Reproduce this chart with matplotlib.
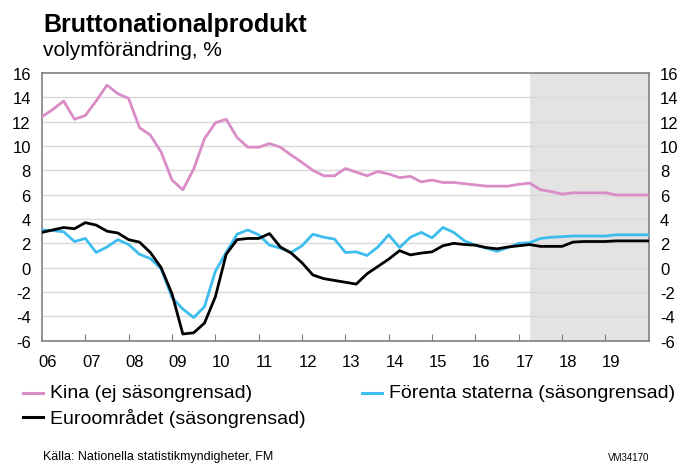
import numpy as np
import matplotlib.pyplot as plt

plt.rcParams['font.family'] = ['Liberation Sans', 'DejaVu Sans']
plt.rcParams['axes.unicode_minus'] = False

# quarterly values, 2005 Q4 .. 2019 Q4 (plotted at quarter ends)
kina = [12.4, 13.0, 13.7, 12.2, 12.5, 13.7, 15.0, 14.3, 13.9, 11.5,
        10.9, 9.5, 7.2, 6.4, 8.1, 10.6, 11.9, 12.2, 10.7, 9.9,
        9.9, 10.2, 9.9, 9.25, 8.65, 8.0, 7.55, 7.55, 8.15, 7.85,
        7.55, 7.9, 7.7, 7.4, 7.5, 7.05, 7.2, 7.0, 7.0, 6.9,
        6.8, 6.7, 6.7, 6.7, 6.85, 6.95, 6.4, 6.25, 6.05, 6.15,
        6.15, 6.15, 6.15, 5.97, 5.97, 5.97, 5.97]
usa = [3.1, 3.05, 2.95, 2.15, 2.4, 1.25, 1.7, 2.3, 1.9, 1.1,
       0.75, -0.1, -2.45, -3.4, -4.1, -3.2, -0.3, 1.25, 2.75, 3.1,
       2.7, 1.85, 1.6, 1.25, 1.8, 2.75, 2.5, 2.35, 1.25, 1.3,
       1.0, 1.7, 2.7, 1.65, 2.5, 2.9, 2.45, 3.3, 2.9, 2.2,
       1.85, 1.6, 1.35, 1.65, 2.0, 2.05, 2.4, 2.5, 2.55, 2.6,
       2.6, 2.6, 2.6, 2.7, 2.7, 2.7, 2.7]
euro = [2.9, 3.1, 3.3, 3.2, 3.7, 3.5, 3.0, 2.85, 2.3, 2.1,
        1.25, 0.0, -2.15, -5.45, -5.35, -4.55, -2.4, 1.1, 2.3, 2.4,
        2.4, 2.8, 1.7, 1.2, 0.4, -0.6, -0.9, -1.05, -1.2, -1.35,
        -0.5, 0.1, 0.7, 1.4, 1.05, 1.2, 1.3, 1.8, 2.0, 1.9,
        1.85, 1.65, 1.55, 1.7, 1.8, 1.9, 1.75, 1.75, 1.75, 2.1,
        2.15, 2.15, 2.15, 2.2, 2.2, 2.2, 2.2]
year_labels = ['06', '07', '08', '09', '10', '11', '12', '13', '14', '15',
               '16', '17', '18', '19']

x = 2006 + 0.25 * np.arange(len(kina))
years = np.arange(2006, 2020)

fig = plt.figure(figsize=(6.88, 4.64), dpi=100)
ax = fig.add_axes([0.061, 0.2636, 0.882, 0.577])

ax.axvspan(2017.25, 2020, color='#e3e3e3', zorder=0, lw=0)
for v in range(-4, 16, 2):
    ax.axhline(v, color='#d9d9d9', lw=1, zorder=1)

ax.plot(x, kina, color='#d98cc6', lw=2, zorder=3)
ax.plot(x, usa, color='#3dbdee', lw=2, zorder=4)
ax.plot(x, euro, color='black', lw=2, zorder=5)

ax.set_xlim(2006, 2020)
ax.set_ylim(-6, 16)
ax.set_xticks(years[1:])
ax.set_xticklabels([])
ax.tick_params(axis='x', direction='in', length=5, color='#808080')
ax.set_yticks(range(-6, 17, 2))
ax.tick_params(axis='y', length=0, labelsize=12, pad=8)
ax.tick_params(labelright=True)
for s in ax.spines.values():
    s.set_color('#808080')
    s.set_linewidth(1.2)
for yr, lab in zip(years, year_labels):
    ax.text(yr + 0.14, -7.7, lab, ha='center', va='center', fontsize=12)

fig.text(0.0625, 0.946, 'Bruttonationalprodukt', fontsize=18, fontweight='bold', va='center')
fig.text(0.0625, 0.892, 'volymförändring, %', fontsize=15, va='center')

# legend
fig.lines.append(plt.Line2D([0.034, 0.062], [0.151, 0.151], color='#d98cc6', lw=2.2, transform=fig.transFigure))
fig.text(0.0727, 0.151, 'Kina (ej säsongrensad)', fontsize=14, va='center')
fig.lines.append(plt.Line2D([0.526, 0.555], [0.151, 0.151], color='#3dbdee', lw=2.2, transform=fig.transFigure))
fig.text(0.565, 0.151, 'Förenta staterna (säsongrensad)', fontsize=14, va='center')
fig.lines.append(plt.Line2D([0.034, 0.062], [0.099, 0.099], color='black', lw=2.2, transform=fig.transFigure))
fig.text(0.0727, 0.099, 'Euroområdet (säsongrensad)', fontsize=14, va='center')

fig.text(0.062, 0.016, 'Källa: Nationella statistikmyndigheter, FM', fontsize=9, va='center')
fig.text(0.884, 0.014, 'VM34170', fontsize=7, va='center')

fig.savefig('out.png', dpi=100)
